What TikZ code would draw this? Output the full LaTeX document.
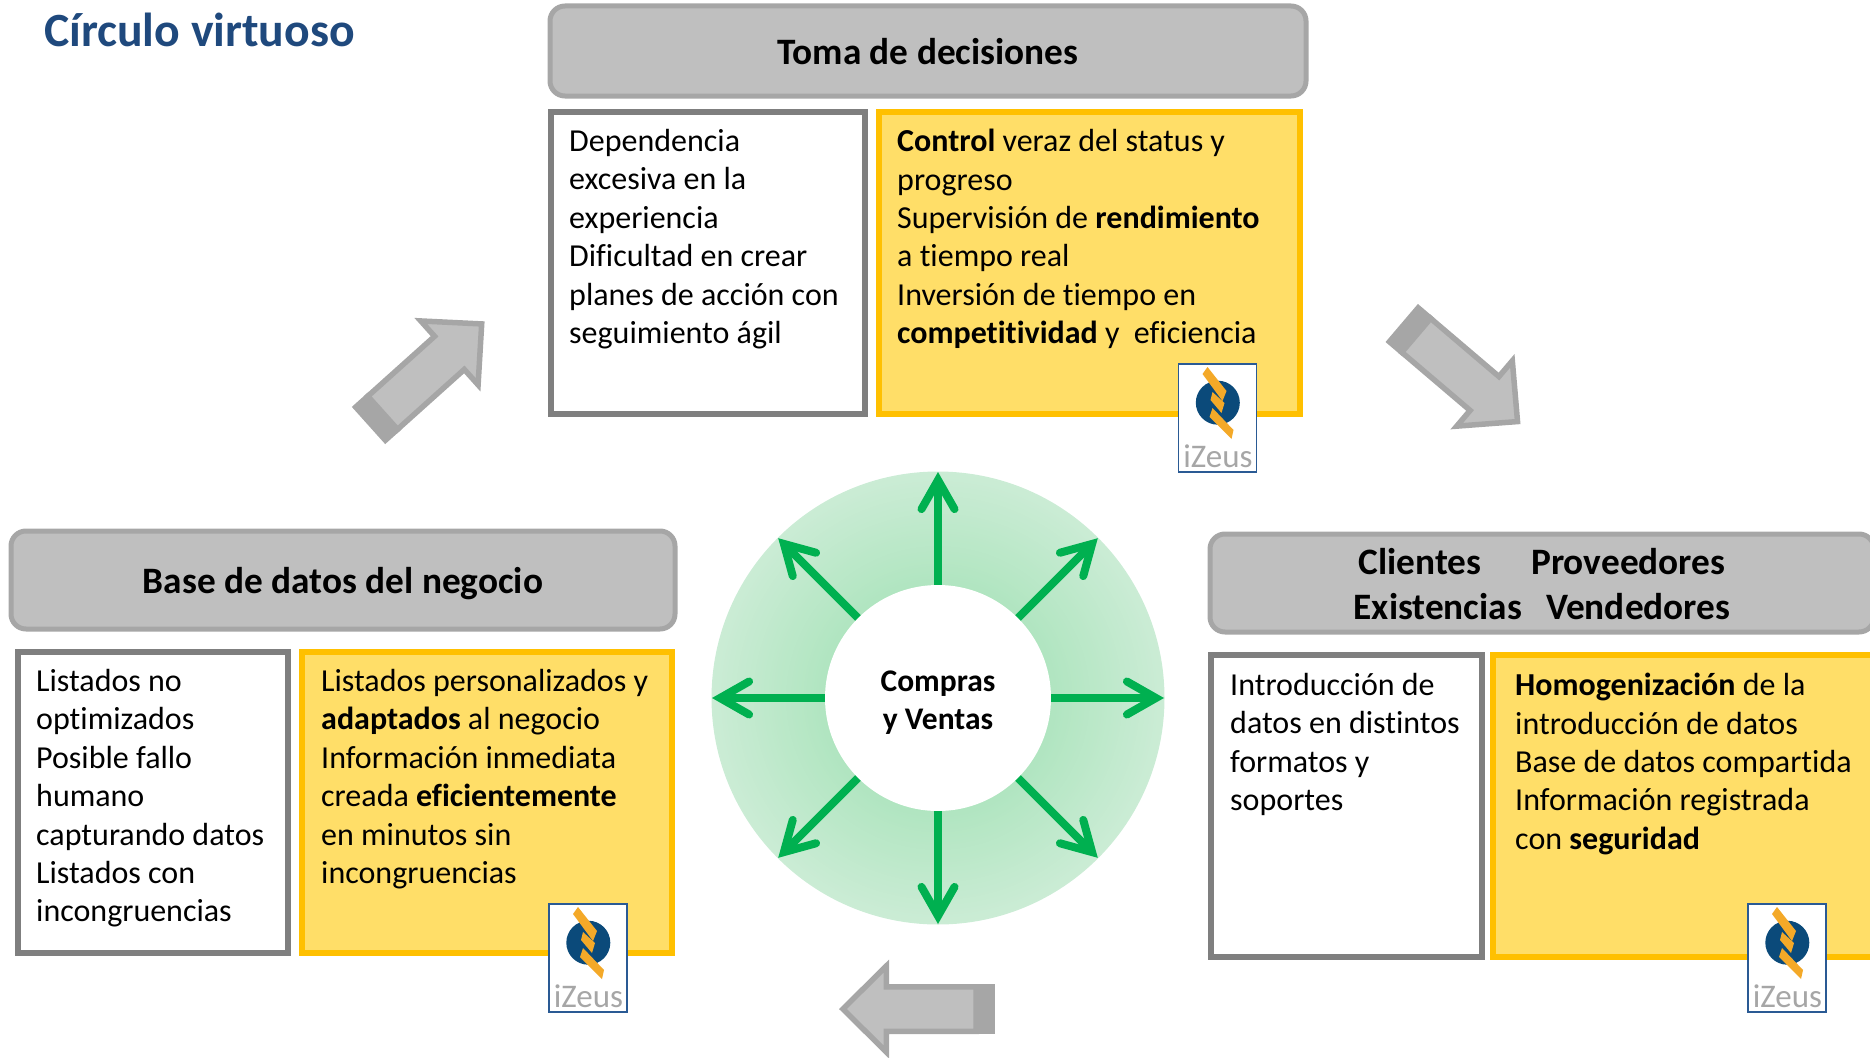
\documentclass[tikz,border=0pt]{standalone}
\usepackage{fontspec}
\setmainfont[Ligatures=NoCommon]{Carlito}
\usetikzlibrary{arrows.meta,calc}
\definecolor{hdrfill}{HTML}{BFBFBF}
\definecolor{hdrline}{HTML}{A6A6A6}
\definecolor{wline}{HTML}{7F7F7F}
\definecolor{yfill}{HTML}{FFDE68}
\definecolor{yline}{HTML}{FFC000}
\definecolor{titleblue}{HTML}{1F497D}
\definecolor{agreen}{HTML}{00B050}
\definecolor{logoblue}{HTML}{0B4A7A}
\definecolor{logoframe}{HTML}{2A5A94}
\definecolor{logoorange}{HTML}{F4A928}
\definecolor{ringin}{HTML}{B0E5C0}
\definecolor{ringout}{HTML}{CBECD5}
\tikzset{
  hdr/.style={draw=hdrline,fill=hdrfill,line width=5pt,rounded corners=15pt,minimum width=#1,inner sep=0pt},
  hdrtxt/.style={inner sep=0pt,align=center,font=\fontsize{37.3}{45}\selectfont\bfseries},
  wbox/.style={draw=wline,fill=white,line width=6pt,inner sep=0pt},
  ybox/.style={draw=yline,fill=yfill,line width=6pt,inner sep=0pt},
  bodytxt/.style={anchor=north west,inner sep=0pt,align=left,font=\fontsize{32}{38.4}\selectfont,execute at begin node=\strut},
  ray/.style={draw=agreen,line width=8pt,-{Straight Barb[length=29pt,width=33pt,line cap=round,line join=miter]}},
  pics/blockarrow/.style={code={
    \fill[hdrline] (0,-25) rectangle (22,25);
    \draw[draw=hdrline,fill=hdrfill,line width=5.5pt,line join=miter]
      (19,-22.25) -- (108.75,-22.25) -- (108.75,-42.9) -- (152.1,0) -- (108.75,42.9) -- (108.75,22.25) -- (19,22.25) -- cycle;
  }},
  pics/izeus/.style={code={
    \draw[draw=logoframe,fill=white,line width=1.6pt] (0,0) rectangle (78,108);
    \fill[logoblue] (39.3,38.7) circle (22);
    \fill[logoorange] (29,3) -- (48,27) -- (44,37) -- (24,10) -- cycle;
    \fill[logoorange] (34,28) -- (46,39) -- (43,49) -- (32,36) -- cycle;
    \fill[logoorange] (34,44) -- (55,66) -- (53,75) -- (31,53) -- cycle;
    \node[inner sep=0pt,text=hdrline,font=\fontsize{33}{33}\selectfont] at (39.5,92) {iZeus};
  }}
}
\begin{document}
\begin{tikzpicture}[x=1pt,y=-1pt]
\useasboundingbox (0,0) rectangle (1870,1057);
% title
\node[anchor=west,inner sep=0pt,text=titleblue,font=\fontsize{47.7}{52}\selectfont\bfseries] (title) at (44,30) {Círculo virtuoso};
% top block
\node[hdr=756pt,minimum height=90pt] (h1) at (928,51) {};
\node[hdrtxt] (h1t) at (928,52) {Toma de decisiones};
\node[wbox,minimum width=314pt,minimum height=302pt] (w1) at (707.5,262.5) {};
\node[ybox,minimum width=421pt,minimum height=302pt] (y1) at (1089.5,262.5) {};
\node[bodytxt] (t1) at (569,129) {Dependencia\\excesiva en la\\experiencia\\Dificultad en crear\\planes de acción con\\seguimiento ágil};
\node[bodytxt] (t2) at (897,129) {\textbf{Control} veraz del status y\\progreso\\Supervisión de \textbf{rendimiento}\\a tiempo real\\Inversión de tiempo en\\\textbf{competitividad} y~~eficiencia};
\pic at (1178.5,364) {izeus};
% left block
\node[hdr=664pt,minimum height=98pt] (h2) at (343,580) {};
\node[hdrtxt] (h2t) at (343,584) {Base de datos del negocio};
\node[wbox,minimum width=270pt,minimum height=301pt] (w2) at (153,802) {};
\node[ybox,minimum width=370pt,minimum height=301pt] (y2) at (487,802) {};
\node[bodytxt] (t3) at (36,669) {Listados no\\optimizados\\Posible fallo\\humano\\capturando datos\\Listados con\\incongruencias};
\node[bodytxt] (t4) at (321,669) {Listados personalizados y\\\textbf{adaptados} al negocio\\Información inmediata\\creada \textbf{eficientemente}\\en minutos sin\\incongruencias};
\pic at (549,904) {izeus};
% right block
\node[hdr=664pt,minimum height=98pt] (h3) at (1542,583) {};
\node[hdrtxt] (h3t) at (1542,584.5) {Clientes\hspace{50pt}Proveedores\\Existencias\hspace{24pt}Vendedores};
\node[wbox,minimum width=271pt,minimum height=302pt] (w3) at (1346.5,805.5) {};
\node[ybox,minimum width=385pt,minimum height=302pt] (y3) at (1685.5,805.5) {};
\node[bodytxt] (t5) at (1230,673) {Introducción de\\datos en distintos\\formatos y\\soportes};
\node[bodytxt] (t6) at (1515,673) {\textbf{Homogenización} de la\\introducción de datos\\Base de datos compartida\\Información registrada\\con \textbf{seguridad}};
\pic at (1748,904) {izeus};
% centre
\coordinate (cc) at (938,698);
\foreach \r [evaluate=\r as \m using {(\r-113)/1.135}] in {226.5,224,...,112}{
  \fill[ringout!\m!ringin] (cc) circle (\r);
}
\node[circle,fill=white,minimum size=226pt,inner sep=0pt] (core) at (cc) {};
\node[inner sep=0pt,align=center,font=\fontsize{31.5}{38.4}\selectfont\bfseries] (corelabel) at (938,702.5) {Compras\\y Ventas};
\foreach \a in {0,45,...,315}{
  \coordinate (tip\a) at ($(cc)+(\a:226 and -226)$);
  \draw[ray] (core.\a) -- (tip\a);
}
% block arrows
\pic[rotate=41.9] at (368.5,425.5) {blockarrow};
\pic[rotate=-40.4] at (1401.7,323) {blockarrow};
\pic[rotate=180] at (995,1009) {blockarrow};
\end{tikzpicture}
\end{document}
